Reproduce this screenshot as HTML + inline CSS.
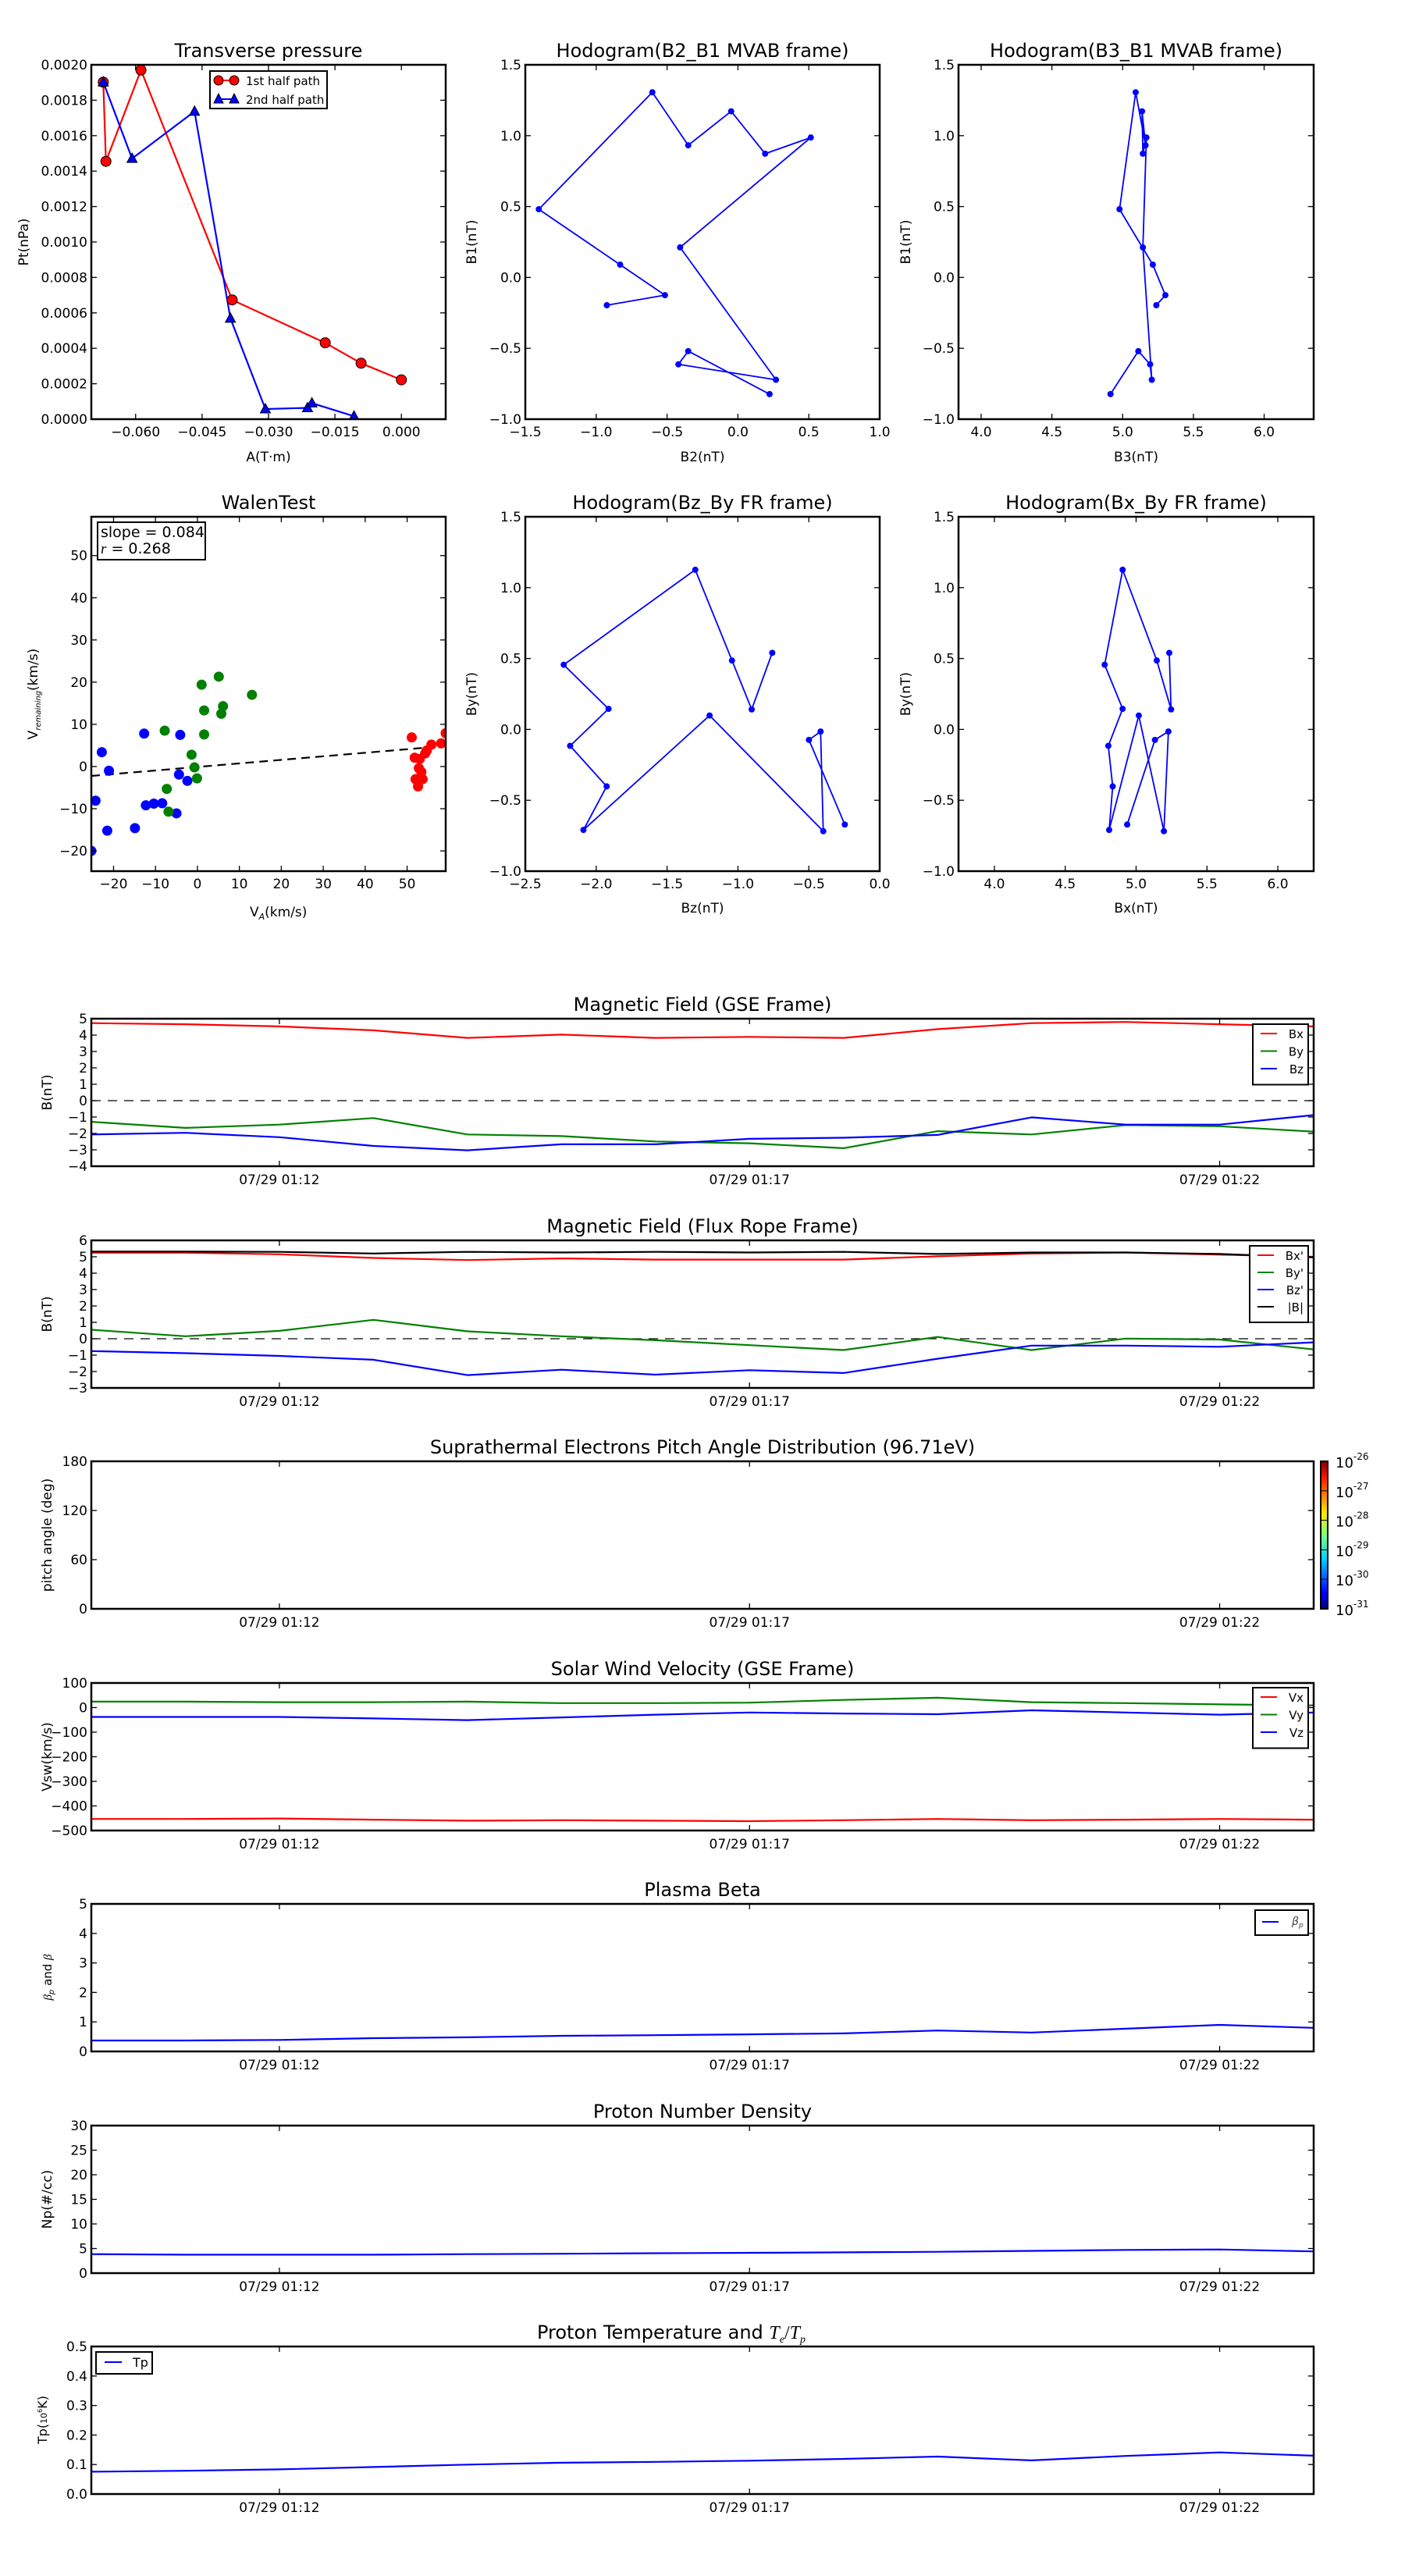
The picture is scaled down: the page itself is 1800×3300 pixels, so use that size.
<!DOCTYPE html>
<html><head><meta charset="utf-8"><title>Flux rope analysis</title>
<style>
html,body{margin:0;padding:0;background:#fff;}
svg{display:block;font-family:"DejaVu Sans","Liberation Sans",sans-serif;}
</style></head>
<body>
<svg id="fig" xmlns="http://www.w3.org/2000/svg" width="1800" height="3300" viewBox="0 0 1800 3300">
<defs>
<linearGradient id="jet" x1="0" y1="1" x2="0" y2="0">
<stop offset="0" stop-color="#00007f"/><stop offset="0.11" stop-color="#0000ff"/><stop offset="0.34" stop-color="#00d4ff"/><stop offset="0.5" stop-color="#7dff7a"/><stop offset="0.65" stop-color="#ffe600"/><stop offset="0.89" stop-color="#ff1400"/><stop offset="1" stop-color="#7f0000"/>
</linearGradient>
</defs>
</svg>
<script>
// ---------- data ----------
const ptAx1 = [-0.0673,-0.0667,-0.0588,-0.0382,-0.0172,-0.0091,0.0];
const ptPt1 = [0.001902,0.001455,0.00197,0.000673,0.000431,0.000316,0.000222];
const ptAx2 = [-0.0673,-0.0608,-0.0467,-0.0386,-0.0307,-0.0212,-0.0202,-0.0107];
const ptPt2 = [0.001902,0.001471,0.001737,0.000569,0.0000572,0.000064,0.0000909,0.0000168];
const mvB2 = [-0.925,-0.515,-0.831,-1.405,-0.604,-0.351,-0.048,0.192,0.514,-0.408,0.268,-0.420,-0.351,0.223];
const mvB1 = [-0.196,-0.125,0.090,0.481,1.306,0.932,1.172,0.873,0.987,0.212,-0.722,-0.613,-0.520,-0.823];
const mvB3 = [5.238,5.302,5.213,4.978,5.092,5.162,5.137,5.143,5.168,5.143,5.206,5.194,5.111,4.914];
const walBlueX = [-25.3,-24.3,-22.8,-21.1,-21.5,-14.9,-12.7,-12.3,-10.4,-8.4,-5.0,-4.4,-4.1,-2.4];
const walBlueY = [-20.0,-8.1,3.4,-1.0,-15.2,-14.6,7.8,-9.2,-8.8,-8.7,-11.1,-1.9,7.5,-3.4];
const walGreenX = [-7.8,-7.3,-6.9,-1.4,-0.7,-0.1,1.0,1.6,1.6,5.1,5.7,6.1,13.0];
const walGreenY = [8.5,-5.3,-10.7,2.8,-0.2,-2.8,19.4,13.3,7.6,21.3,12.5,14.3,17.0];
const walRedX = [51.1,51.8,52.0,52.6,52.8,53.0,53.4,53.7,54.3,54.7,55.8,58.1,59.2];
const walRedY = [6.9,2.1,-3.0,-4.7,-0.4,1.8,-1.3,-3.0,3.1,3.8,5.2,5.5,7.9];
const walSlope = 0.084, walIntercept = -0.1;
const frBz = [-0.758,-0.903,-1.042,-1.301,-2.229,-1.913,-2.184,-1.926,-2.090,-1.200,-0.398,-0.417,-0.499,-0.246];
const frBy = [0.540,0.141,0.486,1.126,0.456,0.145,-0.116,-0.402,-0.709,0.098,-0.718,-0.015,-0.074,-0.671];
const frBx = [5.234,5.247,5.146,4.905,4.778,4.905,4.804,4.835,4.810,5.019,5.196,5.228,5.133,4.937];
// time series: minutes after 01:00
const tMin = [10,11,12,13,14,15,16,17,18,19,20,21,22,23];
const timeTicks = [12,17,22];
const timeTickLabels = ["07/29 01:12","07/29 01:17","07/29 01:22"];
const gseBx = [4.73,4.66,4.53,4.29,3.83,4.03,3.83,3.89,3.83,4.36,4.73,4.80,4.66,4.53];
const gseBy = [-1.29,-1.66,-1.46,-1.06,-2.06,-2.16,-2.49,-2.60,-2.90,-1.86,-2.06,-1.49,-1.56,-1.89];
const gseBz = [-2.06,-1.96,-2.23,-2.76,-3.03,-2.66,-2.66,-2.33,-2.26,-2.09,-1.02,-1.46,-1.46,-0.88];
const frpBx = [5.25,5.25,5.15,4.93,4.80,4.90,4.83,4.83,4.83,5.03,5.20,5.26,5.13,5.0];
const frpBy = [0.55,0.15,0.48,1.15,0.45,0.15,-0.09,-0.39,-0.69,0.11,-0.69,0.01,-0.05,-0.65];
const frpBz = [-0.75,-0.88,-1.05,-1.28,-2.22,-1.89,-2.19,-1.92,-2.09,-1.22,-0.42,-0.42,-0.49,-0.22];
const frpBt = [5.32,5.32,5.30,5.20,5.30,5.26,5.30,5.26,5.30,5.17,5.26,5.26,5.17,4.96];
const vx = [-453,-453,-451,-456,-460,-458,-460,-462,-458,-453,-458,-456,-453,-456];
const vy = [24,24,22,22,24,18,18,20,31,40,22,18,13,9];
const vz = [-38,-38,-38,-44,-51,-40,-29,-20,-24,-27,-11,-20,-29,-20];
const betaP = [0.37,0.37,0.39,0.45,0.48,0.53,0.55,0.58,0.61,0.71,0.64,0.77,0.90,0.80];
const npDen = [3.85,3.75,3.75,3.75,3.85,3.94,4.04,4.13,4.23,4.33,4.52,4.71,4.81,4.42];
const tpK = [0.0756,0.0788,0.0836,0.0916,0.0997,0.106,0.109,0.113,0.119,0.127,0.114,0.129,0.141,0.130];
const cbarLabels = ["-31","-30","-29","-28","-27","-26"];

// ---------- helpers ----------
const NS="http://www.w3.org/2000/svg";
const svg=document.getElementById('fig');
function mk(tag,attrs,parent){const e=document.createElementNS(NS,tag);for(const k in attrs)e.setAttribute(k,attrs[k]);(parent||svg).appendChild(e);return e;}
function txt(s,x,y,size,anchor,parent,extra){const t=mk('text',Object.assign({x:x,y:y,'font-size':size,'text-anchor':anchor||'middle',fill:'#000'},extra||{}),parent);t.textContent=s;return t;}
function fmt(v,d){const s=Math.abs(v).toFixed(d);return (v<-1e-12?'\u2212':'')+s;}

function makeAxes(name,x0,y0,w,h,xlim,ylim){
  const g=mk('g',{});
  
  
  const sx=v=>x0+(v-xlim[0])/(xlim[1]-xlim[0])*w;
  const sy=v=>y0+h-(v-ylim[0])/(ylim[1]-ylim[0])*h;
  return {g,sx,sy,x0,y0,w,h};
}
function frame(ax){
  const r=mk('rect',{x:ax.x0,y:ax.y0,width:ax.w,height:ax.h,fill:'none',stroke:'#000','stroke-width':2.5},ax.g);
  
  
}
function xticks(ax,vals,labels,size,dy){
  vals.forEach((v,i)=>{const x=ax.sx(v);
    mk('line',{x1:x,y1:ax.y0+ax.h,x2:x,y2:ax.y0+ax.h-7,stroke:'#000','stroke-width':1.3},ax.g);
    mk('line',{x1:x,y1:ax.y0,x2:x,y2:ax.y0+7,stroke:'#000','stroke-width':1.3},ax.g);
    const t=txt(labels[i],x,ax.y0+ax.h+(dy||22),size||17,'middle',ax.g);
    
    });
}
function yticks(ax,vals,labels,size){
  vals.forEach((v,i)=>{const y=ax.sy(v);
    mk('line',{x1:ax.x0,y1:y,x2:ax.x0+7,y2:y,stroke:'#000','stroke-width':1.3},ax.g);
    mk('line',{x1:ax.x0+ax.w,y1:y,x2:ax.x0+ax.w-7,y2:y,stroke:'#000','stroke-width':1.3},ax.g);
    const t=txt(labels[i],ax.x0-5,y+6,size||17,'end',ax.g);
    
    });
}
function title(ax,s){const t=txt(s,ax.x0+ax.w/2,ax.y0-10,24,'middle',ax.g);return t;}
function xlabel(ax,s,y){const t=txt(s,ax.x0+ax.w/2,y,17,'middle',ax.g);return t;}
function ylabel(ax,s,x){const cy=ax.y0+ax.h/2;const t=txt(s,x,cy,17,'middle',ax.g,{transform:`rotate(-90 ${x} ${cy})`});return t;}
function clip(ax,id){const cp=mk('clipPath',{id:id},ax.g);mk('rect',{x:ax.x0,y:ax.y0,width:ax.w,height:ax.h},cp);return mk('g',{'clip-path':`url(#${id})`},ax.g);}
function poly(ax,parent,xs,ys,color,name,w){
  const d=xs.map((x,i)=>`${i?'L':'M'}${ax.sx(x).toFixed(1)},${ax.sy(ys[i]).toFixed(1)}`).join(' ');
  const p=mk('path',{d:d,fill:'none',stroke:color,'stroke-width':w||2.2,'stroke-linejoin':'round'},parent);
  
  
  return p;
}
function dots(ax,parent,xs,ys,color,r,name,stroke){
  xs.forEach((x,i)=>{const c=mk('circle',{cx:ax.sx(x),cy:ax.sy(ys[i]),r:r,fill:color,stroke:stroke||'none','stroke-width':1},parent);
    
    });
}
function tris(ax,parent,xs,ys,color,name){
  xs.forEach((x,i)=>{const cx=ax.sx(x),cy=ax.sy(ys[i]);
    const p=mk('polygon',{points:`${cx},${cy-7} ${cx-6.5},${cy+5} ${cx+6.5},${cy+5}`,fill:color,stroke:'#000','stroke-width':1},parent);
    
    });
}
function rng(a,b,s){const r=[];for(let v=a;v<=b+1e-9;v+=s)r.push(+v.toFixed(6));return r;}

// ---------- row 1 ----------
{const ax=makeAxes('transverse-pressure-chart',117,83,454,454,[-0.07,0.01],[0,0.002]);
 const c=clip(ax,'c1');
 poly(ax,c,ptAx1,ptPt1,'#ff0000','first-half-path-line');
 poly(ax,c,ptAx2,ptPt2,'#0000ff','second-half-path-line');
 dots(ax,c,ptAx1,ptPt1,'#ff0000',6.5,'first-half-point','#000');
 tris(ax,c,ptAx2,ptPt2,'#0000ff','second-half-point');
 frame(ax);
 const xt=[-0.06,-0.045,-0.03,-0.015,0];xticks(ax,xt,xt.map(v=>fmt(v,3)));
 const yt=rng(0,0.002,0.0002);yticks(ax,yt,yt.map(v=>fmt(v,4)));
 title(ax,'Transverse pressure');xlabel(ax,'A(T\u00b7m)',591);ylabel(ax,'Pt(nPa)',36);
 const lg=mk('g',{},ax.g);
 mk('rect',{x:269,y:91,width:150,height:48,fill:'#fff',stroke:'#000','stroke-width':2},lg);
 mk('line',{x1:280,y1:103,x2:300,y2:103,stroke:'#f00','stroke-width':2},lg);
 mk('circle',{cx:280,cy:103,r:6,fill:'#f00',stroke:'#000'},lg);mk('circle',{cx:300,cy:103,r:6,fill:'#f00',stroke:'#000'},lg);
 txt('1st half path',315,109,15,'start',lg);
 mk('line',{x1:280,y1:127,x2:300,y2:127,stroke:'#00f','stroke-width':2},lg);
 mk('polygon',{points:'280,120 274,132 286,132',fill:'#00f',stroke:'#000'},lg);mk('polygon',{points:'300,120 294,132 306,132',fill:'#00f',stroke:'#000'},lg);
 txt('2nd half path',315,133,15,'start',lg);
}
{const ax=makeAxes('hodogram-b2-b1-chart',673,83,454,454,[-1.5,1.0],[-1,1.5]);
 const c=clip(ax,'c2');poly(ax,c,mvB2,mvB1,'#0000ff','hodogram-line',1.8);dots(ax,c,mvB2,mvB1,'#0000ff',4,'hodogram-point');
 frame(ax);const xt=rng(-1.5,1.0,0.5);xticks(ax,xt,xt.map(v=>fmt(v,1)));const yt=rng(-1,1.5,0.5);yticks(ax,yt,yt.map(v=>fmt(v,1)));
 title(ax,'Hodogram(B2_B1 MVAB frame)');xlabel(ax,'B2(nT)',591);ylabel(ax,'B1(nT)',610);}
{const ax=makeAxes('hodogram-b3-b1-chart',1228,83,455,454,[3.84,6.35],[-1,1.5]);
 const c=clip(ax,'c3');poly(ax,c,mvB3,mvB1,'#0000ff','hodogram-line',1.8);dots(ax,c,mvB3,mvB1,'#0000ff',4,'hodogram-point');
 frame(ax);const xt=rng(4,6,0.5);xticks(ax,xt,xt.map(v=>fmt(v,1)));const yt=rng(-1,1.5,0.5);yticks(ax,yt,yt.map(v=>fmt(v,1)));
 title(ax,'Hodogram(B3_B1 MVAB frame)');xlabel(ax,'B3(nT)',591);ylabel(ax,'B1(nT)',1166);}

// ---------- row 2 ----------
{const ax=makeAxes('walen-test-chart',117,662,454,454,[-25.3,59.2],[-24.8,59.2]);
 const c=clip(ax,'c4');
 const lx=[-25.3,59.2];const fit=mk('line',{x1:ax.sx(lx[0]),y1:ax.sy(walSlope*lx[0]+walIntercept),x2:ax.sx(lx[1]),y2:ax.sy(walSlope*lx[1]+walIntercept),stroke:'#000','stroke-width':2.2,'stroke-dasharray':'11,7'},c);
 
 dots(ax,c,walBlueX,walBlueY,'#0000ff',6.5,'walen-point-blue');
 dots(ax,c,walGreenX,walGreenY,'#008000',6.5,'walen-point-green');
 dots(ax,c,walRedX,walRedY,'#ff0000',6.5,'walen-point-red');
 frame(ax);const xt=rng(-20,50,10);xticks(ax,xt,xt.map(v=>fmt(v,0)));const yt=rng(-20,50,10);yticks(ax,yt,yt.map(v=>fmt(v,0)));
 title(ax,'WalenTest');
 const xl=txt('V',ax.x0+ax.w/2-24,1174,17,'start',ax.g);
 const s1=mk('tspan',{'font-size':11,dy:4,'font-style':'italic'},xl);s1.textContent='A';const s2=mk('tspan',{dy:-4},xl);s2.textContent='(km/s)';
 const cy=ax.y0+ax.h/2;const yl=txt('V',48,cy,17,'middle',ax.g,{transform:`rotate(-90 48 ${cy})`});
 const s3=mk('tspan',{'font-size':10,dy:4,'font-style':'italic'},yl);s3.textContent='remaining';const s4=mk('tspan',{dy:-4},yl);s4.textContent='(km/s)';
 const bx=mk('g',{},ax.g);
 mk('rect',{x:125,y:669,width:138,height:48,fill:'#fff',stroke:'#000','stroke-width':2},bx);
 txt('slope = 0.084',129,688,19,'start',bx);
 const rt=txt('',129,709,19,'start',bx);const r1=mk('tspan',{'font-style':'italic','font-family':'Liberation Serif, serif'},rt);r1.textContent='r';const r2=mk('tspan',{},rt);r2.textContent=' = 0.268';
}
{const ax=makeAxes('hodogram-bz-by-chart',673,662,454,454,[-2.5,0],[-1,1.5]);
 const c=clip(ax,'c5');poly(ax,c,frBz,frBy,'#0000ff','hodogram-line',1.8);dots(ax,c,frBz,frBy,'#0000ff',4,'hodogram-point');
 frame(ax);const xt=rng(-2.5,0,0.5);xticks(ax,xt,xt.map(v=>fmt(v,1)));const yt=rng(-1,1.5,0.5);yticks(ax,yt,yt.map(v=>fmt(v,1)));
 title(ax,'Hodogram(Bz_By FR frame)');xlabel(ax,'Bz(nT)',1169);ylabel(ax,'By(nT)',610);}
{const ax=makeAxes('hodogram-bx-by-chart',1228,662,455,454,[3.747,6.253],[-1,1.5]);
 const c=clip(ax,'c6');poly(ax,c,frBx,frBy,'#0000ff','hodogram-line',1.8);dots(ax,c,frBx,frBy,'#0000ff',4,'hodogram-point');
 frame(ax);const xt=rng(4,6,0.5);xticks(ax,xt,xt.map(v=>fmt(v,1)));const yt=rng(-1,1.5,0.5);yticks(ax,yt,yt.map(v=>fmt(v,1)));
 title(ax,'Hodogram(Bx_By FR frame)');xlabel(ax,'Bx(nT)',1169);ylabel(ax,'By(nT)',1166);}

// ---------- time series ----------
const TX=117,TW=1566,TH=189;
function tsAxes(name,top,ylim,yt,ylab,dec,ttl,id){
  const ax=makeAxes(name,TX,top,TW,TH,[10,23],ylim);
  const c=clip(ax,id);
  return {ax,c,fin:()=>{frame(ax);xticks(ax,timeTicks,timeTickLabels,17,23);yticks(ax,yt,yt.map(v=>fmt(v,dec)));title(ax,ttl);ylabel(ax,ylab,66);}};
}
function legend(x,y,w,entries,dy){
  const lg=mk('g',{});
  mk('rect',{x:x,y:y,width:w,height:entries.length*dy+10,fill:'#fff',stroke:'#000','stroke-width':2},lg);
  entries.forEach((e,i)=>{const yy=y+12+i*dy;
    mk('line',{x1:x+10,y1:yy,x2:x+31,y2:yy,stroke:e[1],'stroke-width':2},lg);
    const t=txt(e[0],x+w-6,yy+6,15,'end',lg);
    const it=mk('g',{},lg);});
  return lg;
}
function zero(ax,c){const z=mk('line',{x1:ax.x0,y1:ax.sy(0),x2:ax.x0+ax.w,y2:ax.sy(0),stroke:'#000','stroke-width':1.2,'stroke-dasharray':'12,9'},c);}

{const P=tsAxes('magnetic-field-gse-chart',1305,[-4,5],rng(-4,5,1),'B(nT)',0,'Magnetic Field (GSE Frame)','t1');
 zero(P.ax,P.c);
 poly(P.ax,P.c,tMin,gseBx,'#ff0000','bx-line');poly(P.ax,P.c,tMin,gseBy,'#008000','by-line');poly(P.ax,P.c,tMin,gseBz,'#0000ff','bz-line');
 P.fin();legend(1605,1312,71,[['Bx','#f00'],['By','#008000'],['Bz','#00f']],22.5);}
{const P=tsAxes('magnetic-field-flux-rope-chart',1589,[-3,6],rng(-3,6,1),'B(nT)',0,'Magnetic Field (Flux Rope Frame)','t2');
 zero(P.ax,P.c);
 poly(P.ax,P.c,tMin,frpBx,'#ff0000','bx-prime-line');poly(P.ax,P.c,tMin,frpBy,'#008000','by-prime-line');poly(P.ax,P.c,tMin,frpBz,'#0000ff','bz-prime-line');poly(P.ax,P.c,tMin,frpBt,'#000000','b-magnitude-line');
 P.fin();legend(1601,1596,75,[["Bx'",'#f00'],["By'",'#008000'],["Bz'",'#00f'],['|B|','#000']],22);}
{const P=tsAxes('pitch-angle-distribution-chart',1872,[0,180],[0,60,120,180],'pitch angle (deg)',0,'Suprathermal Electrons Pitch Angle Distribution (96.71eV)','t3');
 P.fin();
 const cb=mk('g',{});
 mk('rect',{x:1692,y:1872,width:9,height:189,fill:'url(#jet)',stroke:'#000','stroke-width':2},cb);
 cbarLabels.forEach((s,i)=>{const y=2061-i*189/5;
   mk('line',{x1:1692,y1:y,x2:1701,y2:y,stroke:'#000','stroke-width':1},cb);
   const t=txt('10',1711,y+8,18,'start',cb);const sp=mk('tspan',{'font-size':12,dy:-10},t);sp.textContent=s;});
}
{const P=tsAxes('solar-wind-velocity-chart',2156,[-500,100],rng(-500,100,100),'Vsw(km/s)',0,'Solar Wind Velocity (GSE Frame)','t4');
 poly(P.ax,P.c,tMin,vx,'#ff0000','vx-line');poly(P.ax,P.c,tMin,vy,'#008000','vy-line');poly(P.ax,P.c,tMin,vz,'#0000ff','vz-line');
 P.fin();legend(1605,2162,71,[['Vx','#f00'],['Vy','#008000'],['Vz','#00f']],22.5);}
{const P=tsAxes('plasma-beta-chart',2439,[0,5],rng(0,5,1),'',0,'Plasma Beta','t5');
 poly(P.ax,P.c,tMin,betaP,'#0000ff','beta-p-line');P.fin();
 const cy=2439+94;const yl=txt('',66,cy,15,'middle',P.ax.g,{transform:`rotate(-90 66 ${cy})`});
 const a=mk('tspan',{'font-style':'italic','font-family':'Liberation Serif, serif'},yl);a.textContent='\u03b2';const b=mk('tspan',{'font-size':10,dy:3,'font-style':'italic'},yl);b.textContent='p';const cc=mk('tspan',{dy:-3},yl);cc.textContent=' and ';const d=mk('tspan',{'font-style':'italic','font-family':'Liberation Serif, serif'},yl);d.textContent='\u03b2';
 const lg=mk('g',{});
 mk('rect',{x:1608,y:2447,width:68,height:32,fill:'#fff',stroke:'#000','stroke-width':2},lg);
 mk('line',{x1:1617,y1:2462,x2:1638,y2:2462,stroke:'#00f','stroke-width':2},lg);
 const lt=txt('\u03b2',1655,2466,14,'start',lg,{'font-style':'italic','fill':'#444'});const ls=mk('tspan',{'font-size':9,dy:3},lt);ls.textContent='p';}
{const P=tsAxes('proton-density-chart',2723,[0,30],rng(0,30,5),'Np(#/cc)',0,'Proton Number Density','t6');
 poly(P.ax,P.c,tMin,npDen,'#0000ff','np-line');P.fin();}
{const P=tsAxes('proton-temperature-chart',3006,[0,0.5],rng(0,0.5,0.1),'',1,'','t7');
 poly(P.ax,P.c,tMin,tpK,'#0000ff','tp-line');P.fin();
 const tt=txt('Proton Temperature and ',900-40,2996,24,'middle',P.ax.g);
 const m1=mk('tspan',{'font-style':'italic','font-family':'Liberation Serif, serif'},tt);m1.textContent='T';const m2=mk('tspan',{'font-size':14,dy:5,'font-style':'italic','font-family':'Liberation Serif, serif'},tt);m2.textContent='e';const m3=mk('tspan',{dy:-5,'font-family':'Liberation Serif, serif'},tt);m3.textContent='/';const m4=mk('tspan',{'font-style':'italic','font-family':'Liberation Serif, serif'},tt);m4.textContent='T';const m5=mk('tspan',{'font-size':14,dy:5,'font-style':'italic','font-family':'Liberation Serif, serif'},tt);m5.textContent='p';
 const cy=3006+94;const yl=txt('Tp(',60,cy,16,'middle',P.ax.g,{transform:`rotate(-90 60 ${cy})`});
 const q1=mk('tspan',{'font-size':11},yl);q1.textContent='10';const q2=mk('tspan',{'font-size':8,dy:-6},yl);q2.textContent='6';const q3=mk('tspan',{dy:6},yl);q3.textContent='K)';
 const lg=mk('g',{});
 mk('rect',{x:123,y:3013,width:72,height:28,fill:'#fff',stroke:'#000','stroke-width':2},lg);
 mk('line',{x1:134,y1:3026,x2:156,y2:3026,stroke:'#00f','stroke-width':2},lg);
 txt('Tp',170,3032,16,'start',lg);}
</script>
</body></html>
